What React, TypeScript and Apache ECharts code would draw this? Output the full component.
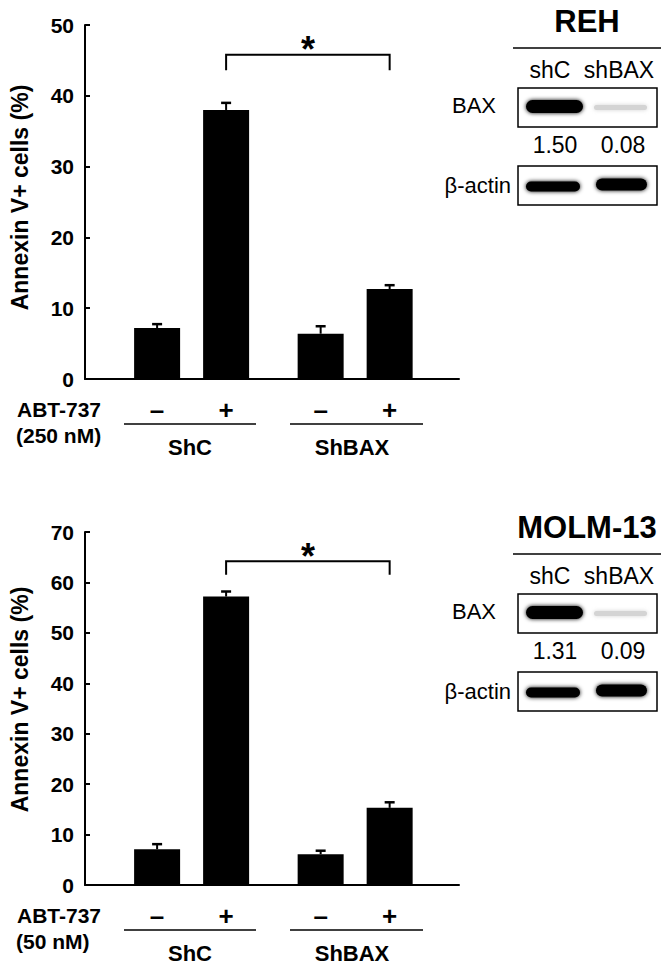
import { useEffect, useRef } from "react";
import * as echarts from "echarts";

// ---------- data ----------
const treatments = ["–", "+", "–", "+"];
const groupNames = ["ShC", "ShBAX"];
const barX = [2.09, 4.09, 6.83, 8.83];
const rehMeans = [7.2, 38.0, 6.4, 12.7];
const rehErrors = [0.55, 1.0, 1.05, 0.55];
const molmMeans = [7.1, 57.2, 6.1, 15.3];
const molmErrors = [1.0, 1.0, 0.7, 1.1];
const rehYTicks = [0, 10, 20, 30, 40, 50];
const molmYTicks = [0, 10, 20, 30, 40, 50, 60, 70];
const rehBracket = [45.8, 43.6];
const molmBracket = [64.2, 61.5];
const lanes = ["shC", "shBAX"];
const rehBaxRatio = [1.5, 0.08];
const molmBaxRatio = [1.31, 0.09];

const FONT = 'Arial, "Liberation Sans", Helvetica, sans-serif';

function txt(text: string, x: number, y: number, size: number, bold: boolean, align = "center") {
  return {
    type: "text",
    x,
    y,
    style: {
      text,
      fontSize: size,
      fontWeight: bold ? "bold" : "normal",
      fontFamily: FONT,
      fill: "#000",
      align,
      verticalAlign: "middle",
    },
  };
}

function hline(x1: number, x2: number, y: number, w = 1.5) {
  return { type: "line", shape: { x1, y1: y, x2, y2: y }, style: { stroke: "#000", lineWidth: w } };
}

function band(x1: number, x2: number, cy: number, h: number, color: string) {
  return {
    type: "rect",
    shape: { x: x1, y: cy - h / 2, width: x2 - x1, height: h, r: h / 2 },
    style: { fill: color, shadowBlur: 4, shadowColor: color },
  };
}

function blotPanel(title: string, base: number, ratios: number[]) {
  const boxX = 518;
  const boxW = 139;
  const baxTop = base + 67;
  const actTop = base + 145;
  const boxH = 39;
  const els: any[] = [];
  els.push(txt(title, 587, base, 31, true));
  els.push(hline(513, 661, base + 27, 1.5));
  els.push(txt(lanes[0], 550, base + 49, 23, false));
  els.push(txt(lanes[1], 619, base + 49, 23, false));
  els.push(txt("BAX", 452, baxTop + boxH / 2 - 2, 22, false, "left"));
  els.push({
    type: "rect",
    shape: { x: boxX, y: baxTop, width: boxW, height: boxH },
    style: { fill: "#fff", stroke: "#000", lineWidth: 1.5 },
  });
  const baxC = baxTop + boxH / 2 - 1;
  els.push(band(526, 583, baxC, 13, ratios[0] > 0.5 ? "#050505" : "#cccccc"));
  els.push(band(594, 647, baxC + 1, 5, ratios[1] > 0.5 ? "#050505" : "#d4d4d4"));
  els.push(txt(ratios[0].toFixed(2), 555, base + 124, 23, false));
  els.push(txt(ratios[1].toFixed(2), 623, base + 124, 23, false));
  els.push(txt("β-actin", 511, actTop + boxH / 2, 22, false, "right"));
  els.push({
    type: "rect",
    shape: { x: boxX, y: actTop, width: boxW, height: boxH },
    style: { fill: "#fff", stroke: "#000", lineWidth: 1.5 },
  });
  const actC = actTop + boxH / 2;
  els.push(band(526, 580, actC + 1, 10, "#050505"));
  els.push(band(596, 647, actC - 1, 12, "#050505"));
  return els;
}

function belowLabels(conc: string, axisY: number) {
  const els: any[] = [];
  els.push(txt("ABT-737", 17, axisY + 30, 21, true, "left"));
  els.push(txt(conc, 16, axisY + 56, 21, true, "left"));
  els.push(hline(124, 256, axisY + 45, 1.5));
  els.push(hline(290, 423, axisY + 45, 1.5));
  els.push(txt(groupNames[0], 190, axisY + 68, 22, true));
  els.push(txt(groupNames[1], 352, axisY + 68, 22, true));
  return els;
}

function makeSeries(idx: number, means: number[], errs: number[], bracket: number[]) {
  return [
    {
      type: "bar",
      xAxisIndex: idx,
      yAxisIndex: idx,
      barWidth: 46,
      itemStyle: { color: "#000" },
      data: means.map((m, i) => [barX[i], m]),
      z: 2,
    },
    {
      type: "custom",
      xAxisIndex: idx,
      yAxisIndex: idx,
      data: means.map((m, i) => [barX[i], m, errs[i]]),
      z: 3,
      renderItem: (params: any, api: any) => {
        const x = api.value(0);
        const m = api.value(1);
        const e = api.value(2);
        const top = api.coord([x, m + e]);
        const base = api.coord([x, m]);
        const zero = api.coord([x, 0]);
        return {
          type: "group",
          children: [
            { type: "line", shape: { x1: base[0], y1: base[1], x2: top[0], y2: top[1] }, style: { stroke: "#000", lineWidth: 2 } },
            { type: "line", shape: { x1: top[0] - 5, y1: top[1], x2: top[0] + 5, y2: top[1] }, style: { stroke: "#000", lineWidth: 2.5 } },
            {
              type: "text",
              x: zero[0],
              y: zero[1] + 31,
              style: {
                text: treatments[params.dataIndex],
                fontSize: 26,
                fontWeight: "bold",
                fontFamily: FONT,
                fill: "#000",
                align: "center",
                verticalAlign: "middle",
              },
            },
          ],
        };
      },
    },
    {
      type: "custom",
      xAxisIndex: idx,
      yAxisIndex: idx,
      data: [[barX[1], barX[3], bracket[0], bracket[1]]],
      z: 3,
      renderItem: (_params: any, api: any) => {
        const a = api.coord([api.value(0), api.value(2)]);
        const b = api.coord([api.value(1), api.value(2)]);
        const aLeg = api.coord([api.value(0), api.value(3)]);
        const bLeg = api.coord([api.value(1), api.value(3)]);
        return {
          type: "group",
          children: [
            {
              type: "polyline",
              shape: { points: [aLeg, a, b, bLeg] },
              style: { stroke: "#000", lineWidth: 2, fill: "none" },
            },
            {
              type: "text",
              x: (a[0] + b[0]) / 2,
              y: a[1] - 5,
              style: {
                text: "*",
                fontSize: 36,
                fontWeight: "bold",
                fontFamily: FONT,
                fill: "#000",
                align: "center",
                verticalAlign: "middle",
              },
            },
          ],
        };
      },
    },
  ];
}

function yAxis(idx: number, ticks: number[], pad: number) {
  return {
    type: "value",
    gridIndex: idx,
    min: ticks[0],
    max: ticks[ticks.length - 1],
    interval: ticks[1] - ticks[0],
    name: "Annexin V+ cells (%)",
    nameLocation: "middle",
    nameGap: 54,
    nameRotate: 90,
    nameTextStyle: { fontSize: 23, fontWeight: "bold", fontFamily: FONT, color: "#000", padding: [0, 0, 0, pad] },
    axisLine: { show: true, lineStyle: { color: "#000", width: 2 } },
    axisTick: { show: true, inside: true, length: 5, lineStyle: { color: "#000", width: 2 } },
    axisLabel: { fontSize: 21, fontWeight: "bold", fontFamily: FONT, color: "#000", margin: 11 },
    splitLine: { show: false },
  };
}

function xAxis(idx: number) {
  return {
    type: "value",
    gridIndex: idx,
    min: 0,
    max: 10.84,
    axisLine: { show: true, onZero: true, lineStyle: { color: "#000", width: 2 } },
    axisTick: { show: false },
    axisLabel: { show: false },
    splitLine: { show: false },
  };
}

export default function App() {
  const ref = useRef<HTMLDivElement>(null);
  useEffect(() => {
    if (!ref.current) return;
    const chart = echarts.init(ref.current, null, { renderer: "svg" });
    chart.setOption({
      animation: false,
      backgroundColor: "#fff",
      grid: [
        { left: 85, top: 25, width: 374, height: 354 },
        { left: 85, top: 532, width: 374, height: 353 },
      ],
      xAxis: [xAxis(0), xAxis(1)],
      yAxis: [yAxis(0, rehYTicks, 9), yAxis(1, molmYTicks, 18)],
      series: [
        ...makeSeries(0, rehMeans, rehErrors, rehBracket),
        ...makeSeries(1, molmMeans, molmErrors, molmBracket),
      ],
      graphic: [
        ...belowLabels("(250 nM)", 379),
        ...belowLabels("(50 nM)", 885),
        ...blotPanel("REH", 21, rehBaxRatio),
        ...blotPanel("MOLM-13", 527, molmBaxRatio),
      ],
    });
    return () => chart.dispose();
  }, []);
  return (
    <div
      ref={ref}
      style={{ position: "absolute", left: 0, top: 0, width: 671, height: 971, background: "#fff" }}
    />
  );
}
